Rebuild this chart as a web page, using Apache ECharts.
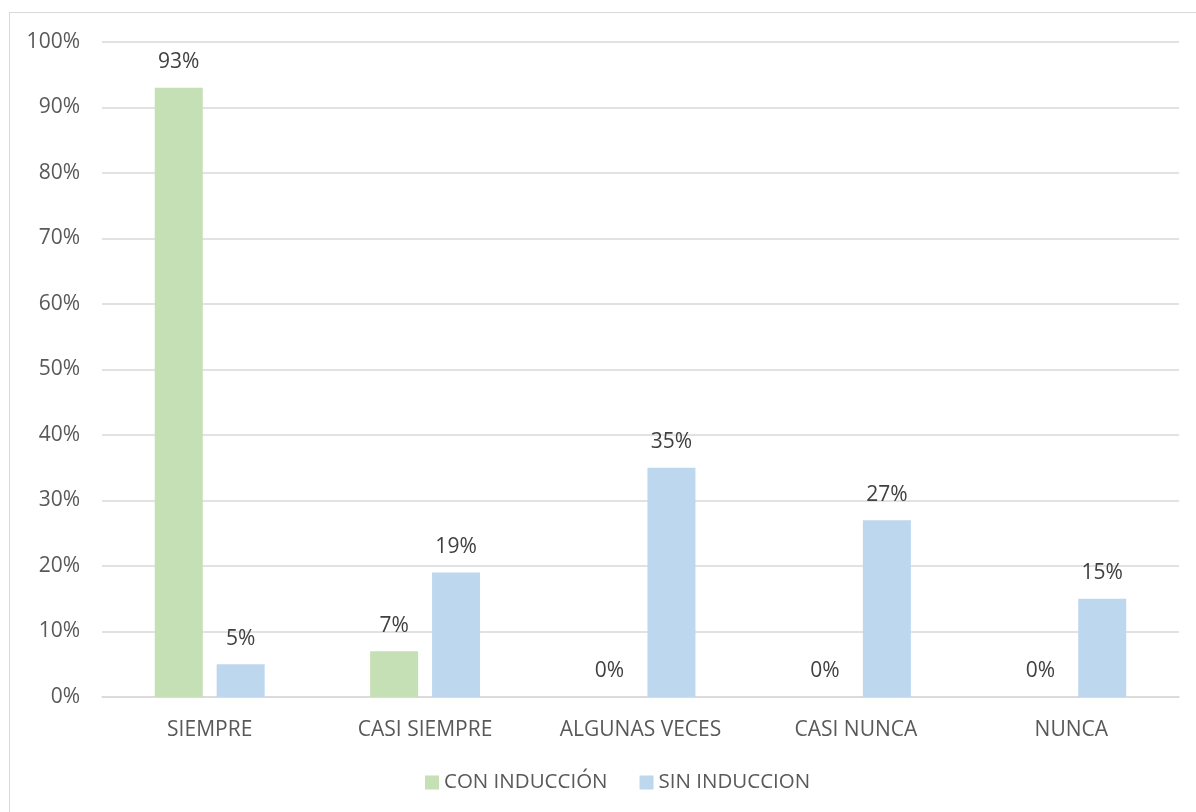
<!DOCTYPE html>
<html><head><meta charset="utf-8">
<script src="https://cdn.jsdelivr.net/npm/echarts@6/dist/echarts.min.js"></script>
<style>html,body{margin:0;padding:0;background:#fff}#c{width:1196px;height:812px}
#frame{position:absolute;left:9px;top:12px;width:1200px;height:820px;border:1px solid #d9d9d9;box-sizing:border-box;pointer-events:none}</style>
</head><body><div id="c"></div><div id="frame"></div>
<script>
const categories = ['SIEMPRE', 'CASI SIEMPRE', 'ALGUNAS VECES', 'CASI NUNCA', 'NUNCA'];
const conInduccion = [93, 7, 0, 0, 0];
const sinInduccion = [5, 19, 35, 27, 15];
const seriesNames = ['CON INDUCCIÓN', 'SIN INDUCCION'];
const yTicks = [0, 10, 20, 30, 40, 50, 60, 70, 80, 90, 100];

const font = 'Open Sans, Liberation Sans, sans-serif';
const chart = echarts.init(document.getElementById('c'));
const lbl = {show: true, position: 'top', distance: 15, formatter: p => p.value + '%', color: '#404040', fontSize: 21, fontFamily: font};
chart.setOption({
  animation: false,
  grid: {left: 102, right: 17, top: 42, bottom: 115},
  legend: {
    bottom: 14, left: 420, itemWidth: 14, itemHeight: 14, itemGap: 32,
    icon: 'rect',
    textStyle: {color: '#595959', fontSize: 20.5, fontFamily: font},
    data: seriesNames
  },
  xAxis: {
    type: 'category', data: categories,
    axisLine: {lineStyle: {color: '#d9d9d9', width: 1.5}},
    axisTick: {show: false},
    axisLabel: {color: '#595959', fontSize: 21, fontFamily: font, margin: 23}
  },
  yAxis: {
    type: 'value', min: yTicks[0], max: yTicks[yTicks.length - 1], interval: 10,
    axisLine: {show: false}, axisTick: {show: false},
    axisLabel: {color: '#595959', fontSize: 21, fontFamily: font, margin: 22, formatter: v => v + '%'},
    splitLine: {lineStyle: {color: '#d9d9d9', width: 1.5}}
  },
  series: [
    {name: seriesNames[0], type: 'bar', data: conInduccion, barWidth: 48, barGap: '29%',
     itemStyle: {color: '#C5E0B4'}, label: lbl},
    {name: seriesNames[1], type: 'bar', data: sinInduccion, barWidth: 48,
     itemStyle: {color: '#BDD7EE'}, label: lbl}
  ]
});
</script></body></html>
